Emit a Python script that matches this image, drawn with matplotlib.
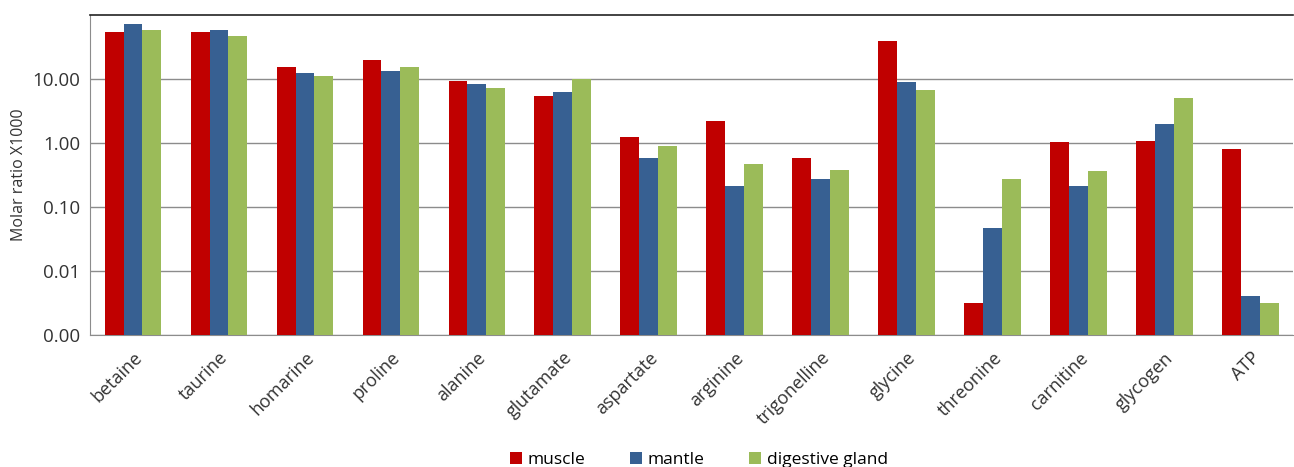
import numpy as np
import matplotlib
matplotlib.use("Agg")
import matplotlib.pyplot as plt
from matplotlib.ticker import FixedLocator, FixedFormatter

# ── data ──────────────────────────────────────────────────────────
compounds = ["betaine", "taurine", "homarine", "proline", "alanine", "glutamate",
             "aspartate", "arginine", "trigonelline", "glycine", "threonine",
             "carnitine", "glycogen", "ATP"]
muscle = [54, 54, 15.4, 20, 9.3, 5.4, 1.24, 2.2, 0.58, 39, 0.0032, 1.04, 1.07, 0.80]
mantle = [72, 58, 12.4, 13.3, 8.4, 6.3, 0.58, 0.21, 0.27, 8.8, 0.046, 0.21, 2.0, 0.0041]
digestive_gland = [58, 47, 11.0, 15.4, 7.2, 10.0, 0.90, 0.47, 0.38, 6.7, 0.27, 0.37, 5.1, 0.0032]

series = [("muscle", muscle, "#C00000"),
          ("mantle", mantle, "#376092"),
          ("digestive gland", digestive_gland, "#9BBB59")]

ytick_vals = [0.001, 0.01, 0.1, 1, 10]
ytick_labels = ["0.00", "0.01", "0.10", "1.00", "10.00"]

plt.rcParams["font.family"] = ["Open Sans", "DejaVu Sans"]

fig = plt.figure(figsize=(12.94, 4.67), dpi=100)
ax = fig.add_axes([0.0696, 0.283, 0.93, 0.685])

x = np.arange(len(compounds))
w = 0.22
for i, (name, vals, col) in enumerate(series):
    ax.bar(x + (i - 1) * w, vals, width=w, color=col, label=name, zorder=3)

ax.set_yscale("log")
ax.set_ylim(0.001, 100)
ax.set_xlim(-0.5, len(compounds) - 0.5)
ax.yaxis.set_major_locator(FixedLocator(ytick_vals))
ax.yaxis.set_major_formatter(FixedFormatter(ytick_labels))
ax.yaxis.set_minor_locator(FixedLocator([]))
ax.grid(axis="y", color="#8c8c8c", linewidth=1.0, zorder=0)

ax.set_xticks(x)
ax.set_xticklabels(compounds, rotation=45, ha="right", rotation_mode="anchor",
                   fontsize=13, color="#333333")
ax.tick_params(axis="y", labelsize=13.5, length=0, pad=7, colors="#333333")
ax.tick_params(axis="x", length=0, pad=10)

for s in ["left", "bottom"]:
    ax.spines[s].set_color("#8c8c8c")
ax.spines["right"].set_visible(False)
ax.spines["top"].set_color("#222222")
ax.spines["top"].set_linewidth(1.2)

ax.set_ylabel("Molar ratio X1000", fontsize=11.5, color="#333333", labelpad=4)

fig.legend(loc="lower center", bbox_to_anchor=(0.54, -0.035), ncol=3, frameon=False,
           fontsize=12.5, handlelength=0.7, handleheight=0.7, handletextpad=0.3,
           columnspacing=2.6)

fig.savefig("out.png", dpi=100)
